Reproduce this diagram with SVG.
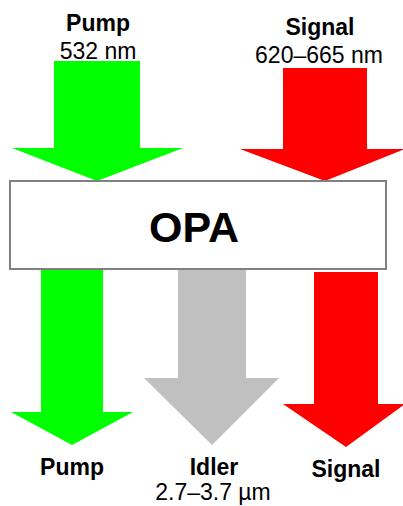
<svg xmlns="http://www.w3.org/2000/svg" width="403" height="506" viewBox="0 0 403 506">
<style>
text{font-family:"Liberation Sans",Arial,sans-serif;fill:#000;text-anchor:middle}
.b{font-weight:bold;font-size:23px}
.r{font-size:23px}
.g{fill:#00ff00}
.red{fill:#ff0000}
.gr{fill:#c0c0c0}
</style>
<rect width="403" height="506" fill="#fff"/>
<g id="labels-top">
<text class="b" x="98" y="31">Pump</text>
<text class="r" x="98" y="59">532 nm</text>
<text class="b" x="320" y="35">Signal</text>
<text class="r" x="319" y="63">620–665 nm</text>
</g>
<g id="connectors">
<polygon class="g" points="54,61 140,61 140,148 183,148 97,181 12,148 54,148"/>
<polygon class="red" points="283,68 367,68 367,149 405,149 325,181 240,149 283,149"/>
<polygon class="g" points="41,269 103,269 103,412 133,412 72,445 11,412 41,412"/>
<polygon class="gr" points="178,269 246,269 246,378 279,378 212,445 144,378 178,378"/>
<polygon class="red" points="314,272 378,272 378,404 405,404 346,447 283,404 314,404"/>
</g>
<g id="opa">
<rect x="10" y="181" width="376" height="88" fill="#fff" stroke="#808080" stroke-width="2"/>
<text x="194" y="242" style="font-weight:bold;font-size:43px">OPA</text>
</g>
<g id="labels-bottom">
<text class="b" x="72" y="475">Pump</text>
<text class="b" x="214" y="475">Idler</text>
<text class="r" x="213" y="500">2.7–3.7 µm</text>
<text class="b" x="346" y="477">Signal</text>
</g>
</svg>
